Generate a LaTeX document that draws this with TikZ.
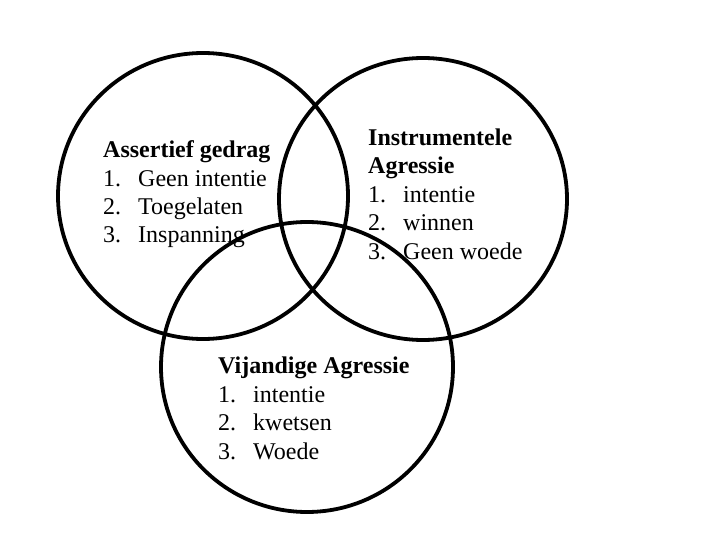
\documentclass[tikz,border=0pt]{standalone}
\usepackage{fontspec}
\setmainfont{Liberation Serif}

% number column of the lists
\newcommand{\listnr}[2]{\makebox[35pt][l]{#1}#2}

\tikzset{
  venn/.style={line width=3.8pt},
  blocktext/.style={anchor=base west, align=left, inner sep=0pt,
    font=\fontsize{24}{28.4}\selectfont}
}

\begin{document}
\begin{tikzpicture}[x=1pt,y=-1pt]

    % --- Frame ---
    \useasboundingbox (0,0) rectangle (720,540);

    % --- Coordinates ---
    % Centres of the three sets
    \coordinate (L) at (203,196);   % Assertief gedrag
    \coordinate (R) at (423,199);   % Instrumentele agressie
    \coordinate (B) at (307,367);   % Vijandige agressie

    % --- Circles ---
    \draw[venn] (L) ellipse [x radius=145pt, y radius=143pt];
    \draw[venn] (R) ellipse [x radius=144pt, y radius=141pt];
    \draw[venn] (B) ellipse [x radius=146pt, y radius=145pt];

    % --- Labels ---
    % the base anchor sits on the last line of each block
    \node[blocktext] (assertief) at (103,243) {\textbf{Assertief gedrag}\\
      \listnr{1.}{Geen intentie}\\
      \listnr{2.}{Toegelaten}\\
      \listnr{3.}{Inspanning}};

    \node[blocktext] (instrumenteel) at (368,259) {\textbf{Instrumentele}\\
      \textbf{Agressie}\\
      \listnr{1.}{intentie}\\
      \listnr{2.}{winnen}\\
      \listnr{3.}{Geen woede}};

    \node[blocktext] (vijandig) at (218,459) {\textbf{Vijandige Agressie}\\
      \listnr{1.}{intentie}\\
      \listnr{2.}{kwetsen}\\
      \listnr{3.}{Woede}};

\end{tikzpicture}
\end{document}
